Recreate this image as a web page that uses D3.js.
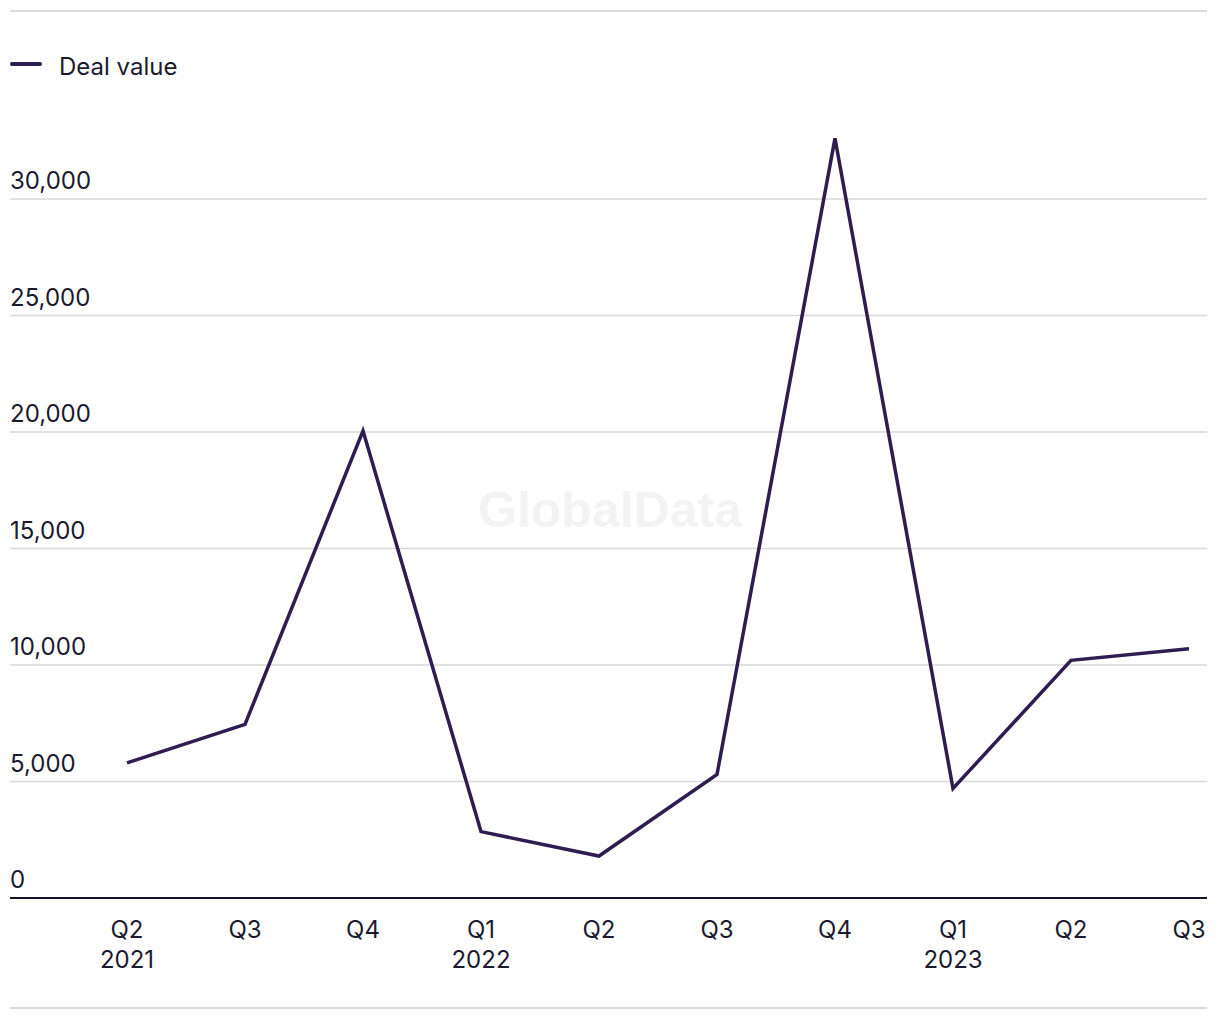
<!DOCTYPE html>
<html><head><meta charset="utf-8">
<script src="https://cdn.jsdelivr.net/npm/d3@7"></script>
<style>body{margin:0;background:#fff}svg{display:block}</style>
</head><body>
<script>
const quarters = ["Q2","Q3","Q4","Q1","Q2","Q3","Q4","Q1","Q2","Q3"];
const years = ["2021","","","2022","","","","2023","",""];
const dealValue = [5800,7450,20050,2850,1800,5300,32600,4700,10200,10700];
const yTicks = [0,5000,10000,15000,20000,25000,30000];
const seriesName = "Deal value";

const W=1220,H=1020;
const svg=d3.select("body").append("svg").attr("width",W).attr("height",H);
const font="'Inter','Noto Sans',sans-serif";
const textColor="#1b1a2e", lineColor="#2f1c50";

svg.append("line").attr("x1",10).attr("x2",1207).attr("y1",11).attr("y2",11).attr("stroke","#dcdcdc").attr("stroke-width",2);
svg.append("line").attr("x1",10).attr("x2",1207).attr("y1",1008).attr("y2",1008).attr("stroke","#dcdcdc").attr("stroke-width",2);

const idx=d3.range(dealValue.length);
const x=d3.scalePoint().domain(idx).range([127,1189]);
const y=d3.scaleLinear().domain([0,30000]).range([898,199]);

svg.append("text").attr("x",610).attr("y",527).attr("text-anchor","middle")
  .attr("font-family","'Liberation Sans',Arial,sans-serif").attr("font-weight","bold").attr("font-size",50)
  .attr("fill","#f3f3f3").text("GlobalData");

const grid=svg.append("g");
yTicks.filter(d=>d>0).forEach(t=>{
  grid.append("line").attr("x1",10).attr("x2",1207).attr("y1",y(t)).attr("y2",y(t)).attr("stroke","#d9d9d9").attr("stroke-width",1.5);
});
yTicks.forEach(t=>{
  svg.append("text").attr("x",10).attr("y",y(t)-10).attr("font-family",font).attr("font-size",24)
    .attr("fill",textColor).text(d3.format(",")(t));
});
svg.append("line").attr("x1",10).attr("x2",1207).attr("y1",y(0)).attr("y2",y(0)).attr("stroke","#141428").attr("stroke-width",2);

idx.forEach(i=>{
  const t=svg.append("text").attr("x",x(i)).attr("y",938).attr("text-anchor","middle")
    .attr("font-family",font).attr("font-size",24).attr("fill",textColor);
  t.append("tspan").attr("x",x(i)).text(quarters[i]);
  if(years[i]) t.append("tspan").attr("x",x(i)).attr("dy",30).text(years[i]);
});

const line=d3.line().x(i=>x(i)).y(i=>y(dealValue[i]));
svg.append("path").datum(idx).attr("d",line).attr("fill","none").attr("stroke",lineColor).attr("stroke-width",3.5).attr("stroke-linejoin","miter");

svg.append("line").attr("x1",12).attr("x2",40).attr("y1",64).attr("y2",64).attr("stroke",lineColor).attr("stroke-width",4).attr("stroke-linecap","round");
svg.append("text").attr("x",59).attr("y",75).attr("font-family",font).attr("font-size",24).attr("fill",textColor).text(seriesName);
</script>
</body></html>
